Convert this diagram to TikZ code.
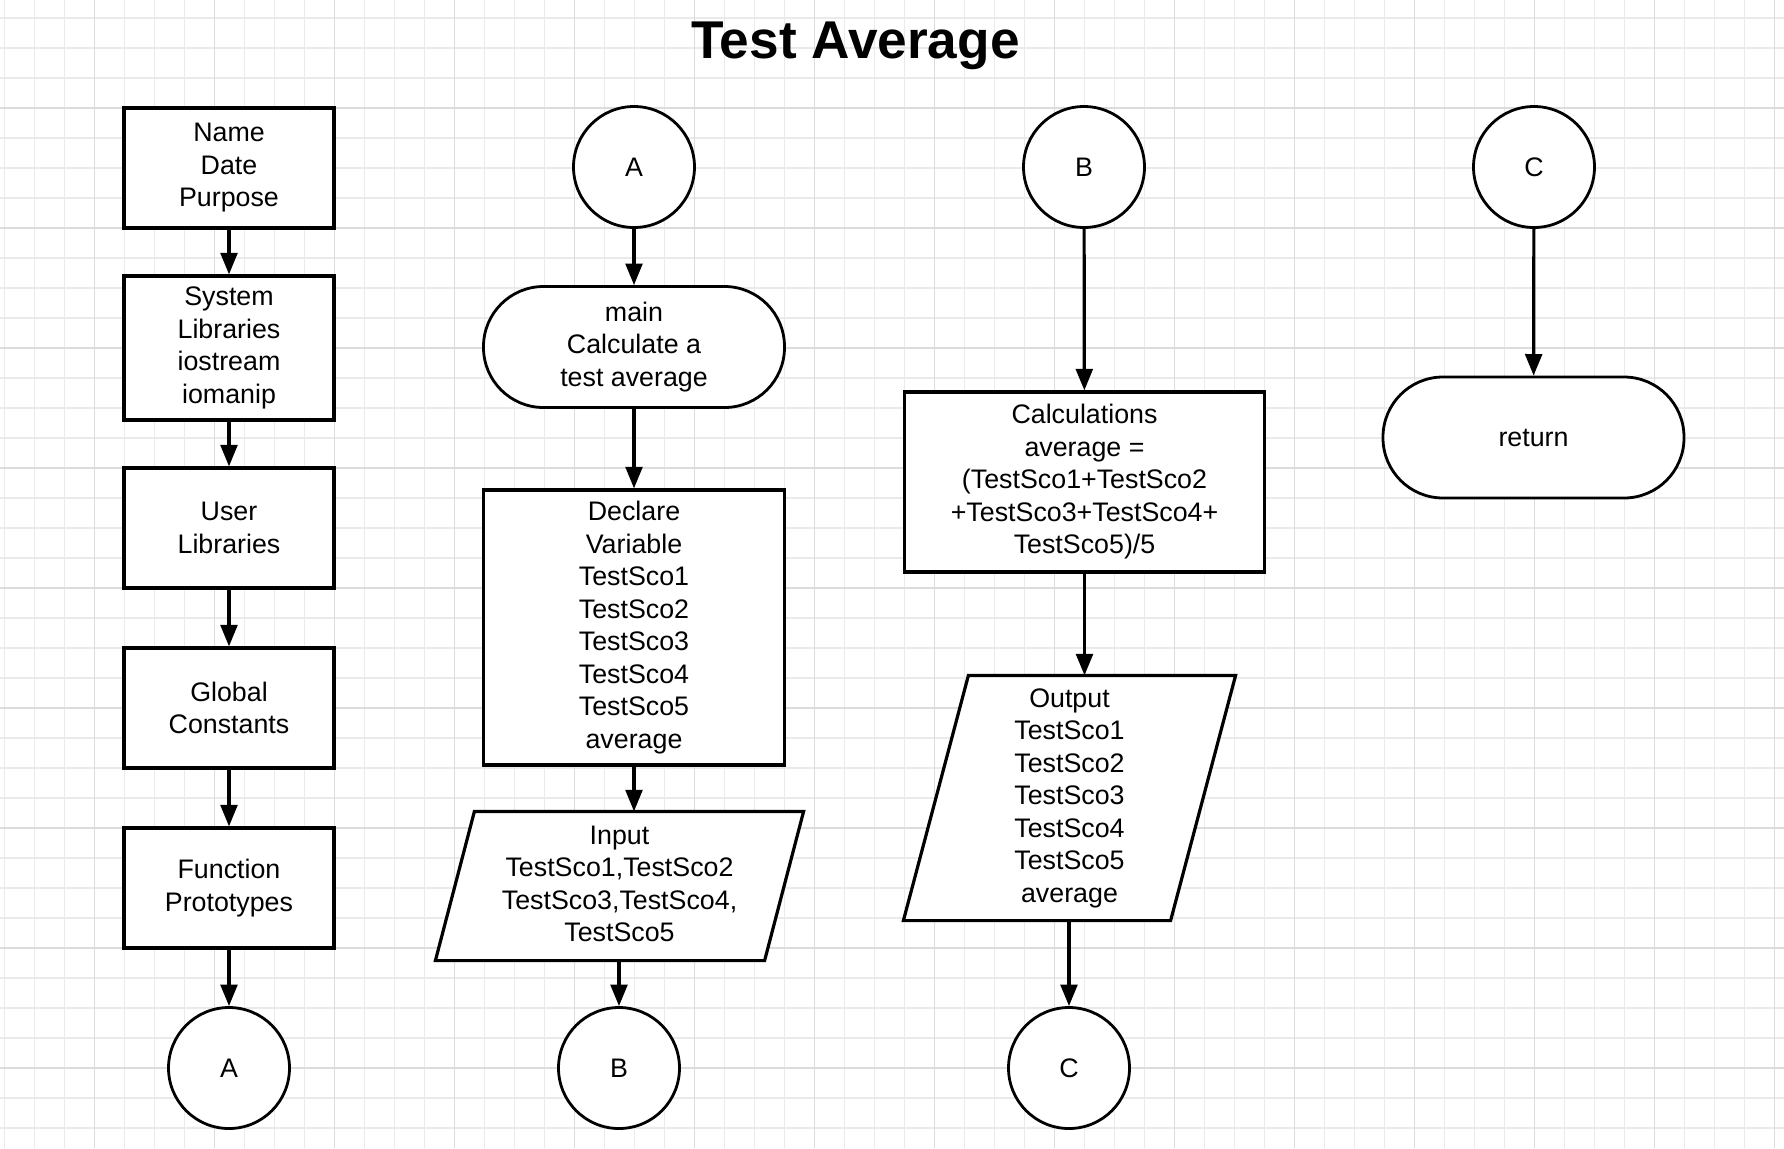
\documentclass[tikz,border=0pt]{standalone}
\usepackage{fontspec}
\setmainfont{Liberation Sans}
\usetikzlibrary{arrows.meta}
\newcommand{\bodyfont}{\fontsize{13.4}{16.25}\selectfont}
\newcommand{\titlefont}{\fontsize{26.6}{30}\selectfont\bfseries}
\definecolor{gridminor}{HTML}{EAEAEA}
\definecolor{gridmajor}{HTML}{DCDCDC}
\tikzset{
  gminor/.style={draw=gridminor, line width=0.6pt},
  gmajor/.style={draw=gridmajor, line width=0.6pt},
  procbox/.style={rectangle, draw, line width=1.6pt, fill=white, align=center, font=\bodyfont, inner sep=0pt},
  connc/.style={circle, draw, line width=1.4pt, fill=white, minimum size=60.5pt, inner sep=0pt, font=\bodyfont},
  termbox/.style={rectangle, draw, line width=1.4pt, fill=white, rounded corners=30pt, align=center, font=\bodyfont, inner sep=0pt},
  ioframe/.style={rectangle, draw=none, align=center, font=\bodyfont, inner sep=0pt, outer sep=0.8pt},
  ioline/.style={draw, line width=1.6pt, fill=white, line join=miter},
  arr/.style={-{Triangle[length=10.8pt,width=8.4pt]}, line width=1.6pt},
}
\begin{document}
\begin{tikzpicture}[x=0.5pt,y=-0.5pt]
\useasboundingbox (0,0) rectangle (1784,1148);
\fill[white] (0,0) rectangle (1784,1148);
% grid
\foreach \x in {4.5,34.5,...,1775} \draw[gminor] (\x,0) -- (\x,1148);
\foreach \y in {18,48,...,1140} \draw[gminor] (0,\y) -- (1784,\y);
\foreach \x in {94.5,214.5,...,1775} \draw[gmajor] (\x,0) -- (\x,1148);
\foreach \y in {108,228,...,1140} \draw[gmajor] (0,\y) -- (1784,\y);

% title
\node[anchor=base, font=\titlefont, inner sep=0pt] (title) at (855.5,58.3) {Test Average};

% column 1
\node[procbox, minimum width=105pt, minimum height=60pt] (t1) at (229,168) {Name\\Date\\Purpose};
\node[procbox, minimum width=105pt, minimum height=72pt] (t2) at (229,348) {System\\Libraries\\iostream\\iomanip};
\node[procbox, minimum width=105pt, minimum height=60pt] (t3) at (229,528) {User\\Libraries};
\node[procbox, minimum width=105pt, minimum height=60pt] (t4) at (229,708) {Global\\Constants};
\node[procbox, minimum width=105pt, minimum height=60pt] (t5) at (229,888) {Function\\Prototypes};
\node[connc] (a1) at (229,1068) {A};

% column 2
\node[connc] (a2) at (634,167) {A};
\node[termbox, minimum width=150.5pt, minimum height=60.5pt] (mainp) at (634,347) {main\\Calculate a\\test average};
\node[procbox, minimum width=150.5pt, minimum height=137.5pt] (decl) at (634,627.5) {Declare\\Variable\\TestSco1\\TestSco2\\TestSco3\\TestSco4\\TestSco5\\average};
\node[ioframe, minimum width=182.5pt, minimum height=73pt] (inp) at (619.5,886) {};
\path[ioline] (inp.south west) -- ([xshift=19.5pt]inp.north west) -- (inp.north east) -- ([xshift=-19.5pt]inp.south east) -- cycle;
\node[font=\bodyfont, align=center, inner sep=0pt] (inptext) at ([yshift=1pt]inp.center) {Input\\TestSco1,TestSco2\\TestSco3,TestSco4,\\TestSco5};
\node[connc] (b1) at (619,1068) {B};

% column 3
\node[connc] (b2) at (1084,167) {B};
\node[procbox, minimum width=180pt, minimum height=90pt] (calc) at (1084.5,482) {Calculations\\average =\\(TestSco1+TestSco2\\+TestSco3+TestSco4+\\TestSco5)/5};
\node[ioframe, minimum width=164.5pt, minimum height=121pt] (outp) at (1069.5,798) {};
\path[ioline] (outp.south west) -- ([xshift=32.5pt]outp.north west) -- (outp.north east) -- ([xshift=-32.5pt]outp.south east) -- cycle;
\node[font=\bodyfont, align=center, inner sep=0pt] (outtext) at (outp.center) {Output\\TestSco1\\TestSco2\\TestSco3\\TestSco4\\TestSco5\\average};
\node[connc] (c1) at (1069,1068) {C};

% column 4
\node[connc] (c2) at (1534,167) {C};
\node[termbox, minimum width=150.5pt, minimum height=60.5pt] (ret) at (1533.5,437.5) {return};

% connectors
\draw[arr] (t1) -- (t2);
\draw[arr] (t2) -- (t3);
\draw[arr] (t3) -- (t4);
\draw[arr] (t4) -- (t5);
\draw[arr] (t5) -- (a1);
\draw[arr] (a2) -- (mainp);
\draw[arr] (mainp) -- (decl);
\draw[arr] (decl.south) -- (decl.south |- inp.north);
\draw[arr] (inp.south -| b1.north) -- (b1.north);
\draw[arr] (b2) -- (calc);
\draw[arr] (calc.south) -- (calc.south |- outp.north);
\draw[arr] (outp.south -| c1.north) -- (c1.north);
\draw[arr] (c2) -- (ret);
\end{tikzpicture}
\end{document}
